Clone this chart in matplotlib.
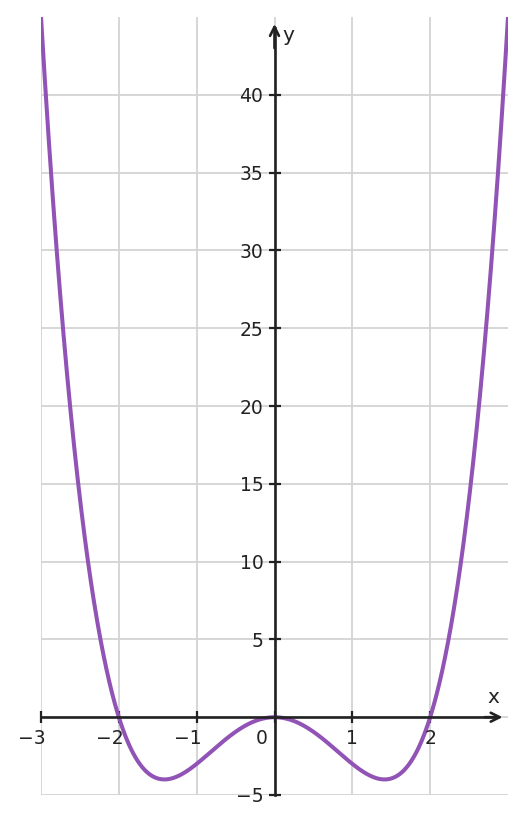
import numpy as np
import matplotlib
matplotlib.use("Agg")
import matplotlib.pyplot as plt
from matplotlib.transforms import offset_copy

# polynomial coefficients: y = x^4 - 4x^2
coeffs = [1, 0, -4, 0, 0]
x_range = [-3, 3]
y_range = [-5, 45]
xticks = [-3, -2, -1, 0, 1, 2]
yticks = [-5, 5, 10, 15, 20, 25, 30, 35, 40]
ygrid = [-5, 0, 5, 10, 15, 20, 25, 30, 35, 40]

curve_color = "#9153b5"
axis_color = "#222222"
grid_color = "#d3d3d3"
fs = 13.5

fig = plt.figure(figsize=(5.26, 8.23), dpi=100)
ax = fig.add_axes([41/526, 28/823, 467/526, 778/823])
ax.set_xlim(*x_range)
ax.set_ylim(*y_range)

for gx in xticks:
    ax.axvline(gx, color=grid_color, lw=1.3, zorder=0)
for gy in ygrid:
    ax.axhline(gy, color=grid_color, lw=1.3, zorder=0)

xs = np.linspace(x_range[0], x_range[1], 1200)
ys = np.polyval(coeffs, xs)
ax.plot(xs, ys, color=curve_color, lw=2.9, zorder=3, solid_capstyle="round")

for s in ["top", "right"]:
    ax.spines[s].set_visible(False)
ax.spines["left"].set_position(("data", 0))
ax.spines["bottom"].set_position(("data", 0))
ax.spines["left"].set_bounds(-5, 44.3)
ax.spines["bottom"].set_bounds(-3, 2.85)
for s in ["left", "bottom"]:
    ax.spines[s].set_color(axis_color)
    ax.spines[s].set_linewidth(1.9)
    ax.spines[s].set_zorder(4)

ax.set_xticks(xticks)
ax.set_xticklabels([])
ax.set_yticks(yticks)
ax.set_yticklabels(["\u2212" + str(-v) if v < 0 else str(v) for v in yticks],
                   fontsize=fs, color=axis_color)
ax.tick_params(axis="both", direction="inout", length=8, width=1.6,
               color=axis_color, pad=4)

# x tick labels (digit centred under tick, minus hanging left)
for v in xticks:
    if v == 0:
        tr = offset_copy(ax.transData, fig=fig, x=-13, y=-12, units="dots")
        ax.text(0, 0, "0", transform=tr, ha="center", va="top",
                fontsize=fs, color=axis_color)
    elif v < 0:
        tr = offset_copy(ax.transData, fig=fig, x=5, y=-12, units="dots")
        ax.text(v, 0, "\u2212" + str(-v), transform=tr, ha="right", va="top",
                fontsize=fs, color=axis_color)
    else:
        tr = offset_copy(ax.transData, fig=fig, x=0, y=-12, units="dots")
        ax.text(v, 0, str(v), transform=tr, ha="center", va="top",
                fontsize=fs, color=axis_color)

# arrow heads
ax.annotate("", xy=(2.93, 0), xytext=(2.7, 0),
            arrowprops=dict(arrowstyle="->", color=axis_color, lw=1.9,
                            mutation_scale=16, shrinkA=0, shrinkB=0),
            zorder=5, annotation_clip=False)
ax.annotate("", xy=(0, 44.55), xytext=(0, 43),
            arrowprops=dict(arrowstyle="->", color=axis_color, lw=1.9,
                            mutation_scale=16, shrinkA=0, shrinkB=0),
            zorder=5, annotation_clip=False)

ax.text(2.81, 1.25, "x", ha="center", va="center", fontsize=fs + 1, color=axis_color)
ax.text(0.18, 43.8, "y", ha="center", va="center", fontsize=fs + 1, color=axis_color)

fig.savefig("out.png", dpi=100)
